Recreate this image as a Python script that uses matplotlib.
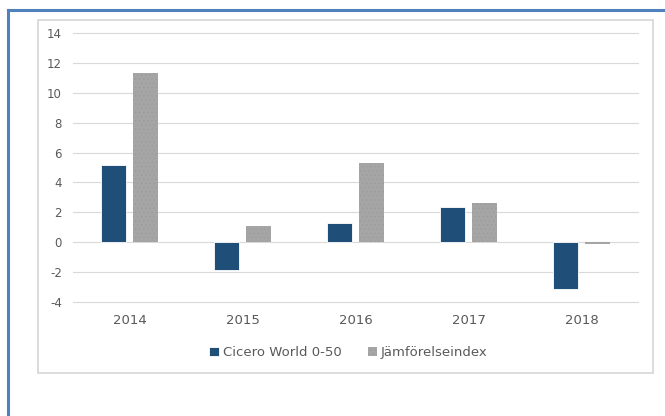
import numpy as np
import matplotlib.pyplot as plt
from matplotlib.lines import Line2D
from matplotlib.patches import Rectangle

years = ["2014", "2015", "2016", "2017", "2018"]
cicero = [5.2, -1.85, 1.3, 2.38, -3.15]
jamfor = [11.37, 1.05, 5.29, 2.64, -0.13]

plt.rcParams["axes.unicode_minus"] = False
plt.rcParams["hatch.linewidth"] = 0.3

W, H = 665, 416
fig = plt.figure(figsize=(W / 100, H / 100), dpi=100)
fig.patch.set_facecolor("white")

# outer blue frame (cut off at right and bottom)
fig.add_artist(Line2D([8 / W, 8 / W], [0, 1 - 9.5 / H], color="#4f81bd", lw=2.2,
                      transform=fig.transFigure))
fig.add_artist(Line2D([8 / W, 1], [1 - 9.5 / H, 1 - 9.5 / H], color="#4f81bd", lw=2.2,
                      transform=fig.transFigure))
# chart box
fig.add_artist(Rectangle((37.5 / W, 1 - 372.5 / H), 615 / W, 352.5 / H,
                         transform=fig.transFigure, fill=False,
                         edgecolor="#d9d9d9", lw=1.3))

ax = fig.add_axes([73 / W, 1 - 301.7 / H, 565 / W, 268.4 / H])
x = np.arange(len(years))
bw = 0.22
off = 0.139
ax.bar(x - off, cicero, bw, color="#1f4e79", edgecolor="white", lw=0.6, zorder=3,
       label="Cicero World 0-50")
ax.bar(x + off, jamfor, bw, color="#a5a5a5", edgecolor="#999999", lw=0, hatch="....",
       zorder=3, label="Jämförelseindex")

ax.set_xlim(-0.5, 4.5)
ax.set_ylim(-4, 14)
ax.set_yticks(range(-4, 15, 2))
ax.set_xticks(x)
ax.set_xticklabels(years)
ax.grid(axis="y", color="#d9d9d9", lw=0.8, zorder=0)
for gl in ax.get_ygridlines():
    gl.set_clip_on(False)
for s in ax.spines.values():
    s.set_visible(False)
ax.tick_params(length=0, colors="#595959", labelsize=9.5)
ax.tick_params(axis="y", pad=8, labelsize=8.5)
ax.tick_params(axis="x", pad=9)

leg = fig.legend(loc="center", bbox_to_anchor=(348.5 / W, 1 - 352.7 / H), ncol=2,
                 frameon=False, fontsize=9.5, handlelength=0.7, handleheight=0.7,
                 handletextpad=0.3, columnspacing=2.0, labelcolor="#595959")

fig.savefig("out.png", dpi=100)
